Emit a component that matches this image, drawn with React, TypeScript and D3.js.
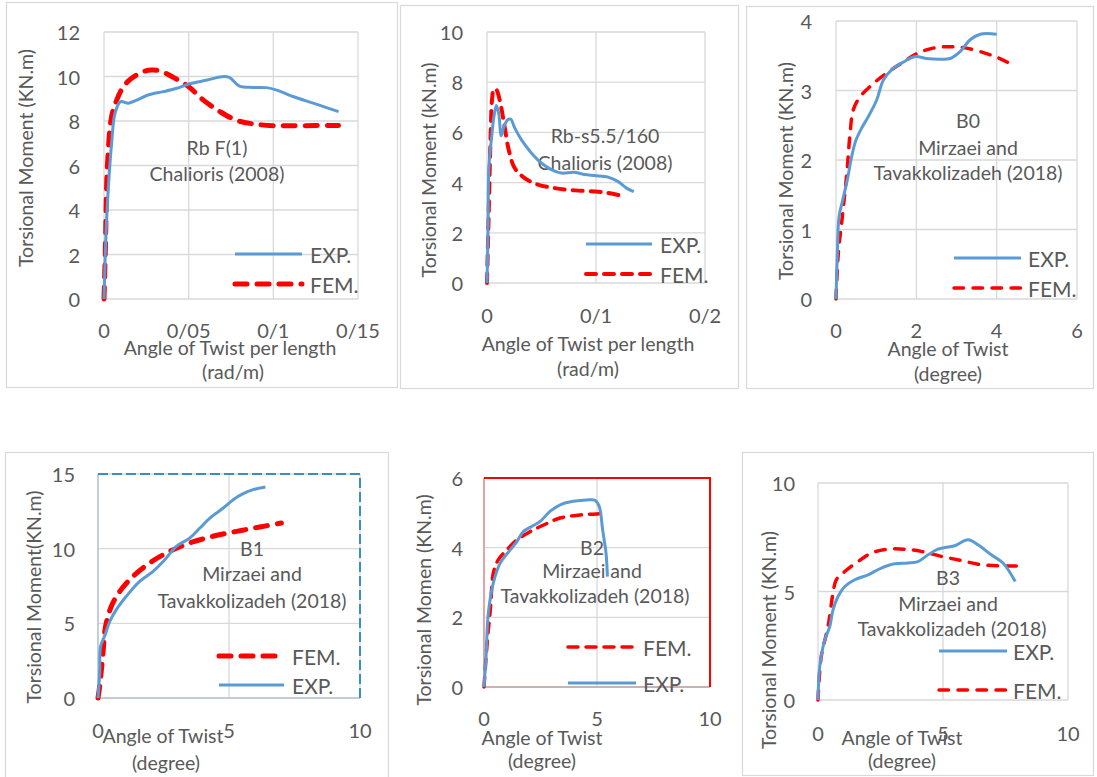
import React from "react";
import * as d3 from "d3";

type Pt = [number, number];

// ---- data (x = twist, y = torsional moment) ----
const rbF1Exp: Pt[] = [
  [0, 0], [0.0012, 2.95], [0.0026, 5.05], [0.0045, 7.0], [0.0065, 8.35], [0.0098, 8.87],
  [0.0144, 8.8], [0.0193, 8.94], [0.026, 9.17], [0.035, 9.32], [0.043, 9.47], [0.05, 9.66],
  [0.061, 9.84], [0.0695, 9.99], [0.074, 9.96], [0.08, 9.57], [0.088, 9.51], [0.096, 9.5],
  [0.102, 9.39], [0.112, 9.09], [0.124, 8.79], [0.1385, 8.42],
];
const rbF1Fem: Pt[] = [
  [0, 0], [0.0008, 2.2], [0.002, 5.95], [0.0045, 8.2], [0.0075, 8.94], [0.0114, 9.54],
  [0.0163, 9.92], [0.0232, 10.22], [0.028, 10.29], [0.033, 10.25], [0.041, 9.96], [0.05, 9.54],
  [0.0587, 8.94], [0.0685, 8.42], [0.078, 8.04], [0.088, 7.87], [0.1, 7.79], [0.116, 7.79],
  [0.1385, 7.8],
];
const rbS55Exp: Pt[] = [
  [0, 0], [0.0009, 1.99], [0.0018, 4.65], [0.004, 5.71], [0.0064, 6.64], [0.0086, 7.07],
  [0.0107, 6.77], [0.0131, 5.87], [0.0156, 6.24], [0.0193, 6.51], [0.0217, 6.53], [0.0254, 6.18],
  [0.0315, 5.71], [0.0407, 5.18], [0.0498, 4.78], [0.059, 4.52], [0.0682, 4.38], [0.0804, 4.41],
  [0.0896, 4.32], [0.0988, 4.28], [0.111, 4.22], [0.12, 4.05], [0.128, 3.78], [0.1346, 3.64],
];
const rbS55Fem: Pt[] = [
  [0, 0], [0.0015, 2.66], [0.0034, 5.98], [0.0046, 7.3], [0.0064, 7.73], [0.0086, 7.7],
  [0.0116, 7.3], [0.0156, 6.37], [0.0199, 5.31], [0.0254, 4.58], [0.0346, 4.18], [0.0468, 3.92],
  [0.0621, 3.78], [0.0804, 3.69], [0.0988, 3.65], [0.111, 3.59], [0.1263, 3.45],
];
const b0Exp: Pt[] = [
  [0, 0], [0.033, 0.66], [0.075, 1.18], [0.166, 1.42], [0.28, 1.71], [0.39, 2.05], [0.5, 2.29],
  [0.64, 2.46], [0.8, 2.62], [1.01, 2.86], [1.18, 3.15], [1.39, 3.3], [1.68, 3.41], [1.97, 3.49],
  [2.26, 3.46], [2.59, 3.45], [2.84, 3.46], [3.09, 3.56], [3.34, 3.73], [3.59, 3.81], [4.0, 3.81],
];
const b0Fem: Pt[] = [
  [0, 0], [0.058, 0.66], [0.166, 1.23], [0.27, 1.81], [0.35, 2.38], [0.43, 2.72], [0.6, 2.91],
  [0.89, 3.08], [1.26, 3.25], [1.68, 3.41], [2.01, 3.53], [2.42, 3.61], [2.84, 3.63],
  [3.25, 3.61], [3.75, 3.53], [4.08, 3.46], [4.32, 3.39],
];
const b1Exp: Pt[] = [
  [0, 0], [0.064, 1.67], [0.1, 3.46], [0.25, 4.13], [0.45, 5.13], [0.7, 5.92], [1.08, 6.81],
  [1.59, 7.81], [2.1, 8.48], [2.55, 9.26], [2.99, 10.16], [3.5, 10.71], [3.89, 11.38],
  [4.27, 12.05], [4.78, 12.72], [5.16, 13.28], [5.54, 13.68], [5.92, 13.95], [6.39, 14.13],
];
const b1Fem: Pt[] = [
  [0, 0], [0.064, 0.78], [0.19, 3.01], [0.29, 4.8], [0.51, 6.14], [0.83, 7.14], [1.34, 8.15],
  [1.97, 9.04], [2.74, 9.82], [3.5, 10.38], [4.39, 10.83], [5.29, 11.16], [6.18, 11.45], [7.0, 11.72],
];
const b2Exp: Pt[] = [
  [0, 0], [0.09, 0.86], [0.19, 2.11], [0.41, 2.98], [0.71, 3.55], [1.15, 3.93], [1.45, 4.17],
  [1.74, 4.46], [2.11, 4.61], [2.48, 4.75], [2.92, 5.04], [3.44, 5.25], [3.95, 5.33],
  [4.54, 5.37], [4.91, 5.36], [5.1, 5.18], [5.25, 4.51], [5.4, 3.84], [5.46, 3.17],
];
const b2Fem: Pt[] = [
  [0, 0], [0.15, 1.34], [0.29, 2.3], [0.41, 3.26], [0.63, 3.65], [1.0, 3.93], [1.45, 4.22],
  [2.04, 4.46], [2.63, 4.65], [3.36, 4.85], [4.25, 4.94], [4.98, 4.97], [5.43, 4.97],
];
const b3Exp: Pt[] = [
  [0, 0], [0.07, 1.54], [0.27, 2.77], [0.47, 3.38], [0.6, 4.15], [0.8, 4.77], [1.07, 5.23],
  [1.47, 5.54], [2.0, 5.77], [2.53, 6.08], [3.07, 6.28], [3.6, 6.31], [4.0, 6.38], [4.4, 6.69],
  [4.8, 6.95], [5.47, 7.11], [6.0, 7.38], [6.4, 7.15], [6.93, 6.69], [7.4, 6.31], [7.89, 5.46],
];
const b3Fem: Pt[] = [
  [0, 0], [0.13, 2.0], [0.4, 3.38], [0.6, 4.92], [0.73, 5.54], [1.07, 5.92], [1.6, 6.38],
  [2.13, 6.77], [2.8, 6.95], [3.47, 6.95], [4.13, 6.85], [4.93, 6.62], [5.73, 6.43],
  [6.4, 6.26], [7.2, 6.18], [7.93, 6.18],
];

// tick labels (the source uses "/" as decimal separator)
const perLengthTicks1 = ["0", "0/05", "0/1", "0/15"];
const perLengthTicks2 = ["0", "0/1", "0/2"];

const FONT = "Lato, 'Open Sans', sans-serif";
const INK = "#595959";
const GRID = "#d9d9d9";
const BLUE = "#5b9bd5";
const RED = "#ff0000";
const TICK_SIZE = 20;
const TITLE_SIZE = 19.5;
const LEGEND_SIZE = 21;

type Panel = {
  frame?: [number, number, number, number];
  box: { l: number; r: number; t: number; b: number };
  xDom: [number, number]; xTicks: number[]; xLabels?: string[];
  yDom: [number, number]; yStep: number;
  yLabRight: number; xLabY: number;
  yTitle: string; yTitleX: number; yTitleY: number;
  xTitle: string[]; xTitleX: number[]; xTitleY: number[];
  note: string[]; noteX: number[]; noteY: number[];
  legend: { key: "exp" | "fem"; y: number }[]; legX1: number; legX2: number; legText: number;
  exp: Pt[]; fem: Pt[];
  femW: number; femDash: string;
  border?: "blue" | "red";
};

const panels: Panel[] = [
  {
    frame: [6, 2, 391, 385],
    box: { l: 104, r: 358, t: 32, b: 299 },
    xDom: [0, 0.15], xTicks: [0, 0.05, 0.1, 0.15], xLabels: perLengthTicks1,
    yDom: [0, 12], yStep: 2, yLabRight: 80, xLabY: 330,
    yTitle: "Torsional Moment (KN.m)", yTitleX: 25, yTitleY: 158,
    xTitle: ["Angle of Twist per length", "(rad/m)"], xTitleX: [230, 233], xTitleY: [347, 371],
    note: ["Rb F(1)", "Chalioris (2008)"], noteX: [217, 217], noteY: [147, 173],
    legend: [{ key: "exp", y: 254 }, { key: "fem", y: 284 }], legX1: 235, legX2: 302, legText: 310,
    exp: rbF1Exp, fem: rbF1Fem, femW: 5, femDash: "12 10",
  },
  {
    frame: [400, 5, 338, 383],
    box: { l: 487, r: 705, t: 32, b: 283 },
    xDom: [0, 0.2], xTicks: [0, 0.1, 0.2], xLabels: perLengthTicks2,
    yDom: [0, 10], yStep: 2, yLabRight: 463, xLabY: 315,
    yTitle: "Torsional Moment (kN.m)", yTitleX: 428, yTitleY: 170,
    xTitle: ["Angle of Twist per length", "(rad/m)"], xTitleX: [588, 588], xTitleY: [343, 368],
    note: ["Rb-s5.5/160", "Chalioris (2008)"], noteX: [605, 605], noteY: [135, 162],
    legend: [{ key: "exp", y: 244 }, { key: "fem", y: 274 }], legX1: 586, legX2: 652, legText: 660,
    exp: rbS55Exp, fem: rbS55Fem, femW: 4, femDash: "10 8",
  },
  {
    frame: [746, 6, 347, 382],
    box: { l: 836, r: 1077, t: 21, b: 299 },
    xDom: [0, 6], xTicks: [0, 2, 4, 6],
    yDom: [0, 4], yStep: 1, yLabRight: 812, xLabY: 330,
    yTitle: "Torsional Moment (KN.m)", yTitleX: 785, yTitleY: 171,
    xTitle: ["Angle of Twist", "(degree)"], xTitleX: [948, 948], xTitleY: [348, 373],
    note: ["B0", "Mirzaei and", "Tavakkolizadeh (2018)"], noteX: [968, 968, 968], noteY: [120, 147, 172],
    legend: [{ key: "exp", y: 258 }, { key: "fem", y: 288 }], legX1: 954, legX2: 1021, legText: 1028,
    exp: b0Exp, fem: b0Fem, femW: 3.5, femDash: "9.5 9.5",
  },
  {
    frame: [5, 452, 383, 340],
    box: { l: 98, r: 360, t: 474, b: 698 },
    xDom: [0, 10], xTicks: [0, 5, 10],
    yDom: [0, 15], yStep: 5, yLabRight: 75, xLabY: 730,
    yTitle: "Torsional Moment(KN.m)", yTitleX: 33, yTitleY: 597,
    xTitle: ["Angle of Twist", "(degree)"], xTitleX: [163, 166], xTitleY: [735, 762],
    note: ["B1", "Mirzaei and", "Tavakkolizadeh (2018)"], noteX: [252, 252, 252], noteY: [548, 573, 600],
    legend: [{ key: "fem", y: 656 }, { key: "exp", y: 685 }], legX1: 219, legX2: 284, legText: 292,
    exp: b1Exp, fem: b1Fem, femW: 5, femDash: "12 10", border: "blue",
  },
  {
    box: { l: 484, r: 710, t: 478, b: 687 },
    xDom: [0, 10], xTicks: [0, 5, 10],
    yDom: [0, 6], yStep: 2, yLabRight: 463, xLabY: 718,
    yTitle: "Torsional Momen (KN.m)", yTitleX: 423, yTitleY: 600,
    xTitle: ["Angle of Twist", "(degree)"], xTitleX: [542, 542], xTitleY: [737, 760],
    note: ["B2", "Mirzaei and", "Tavakkolizadeh (2018)"], noteX: [592, 592, 595], noteY: [547, 570, 595],
    legend: [{ key: "fem", y: 647 }, { key: "exp", y: 683 }], legX1: 568, legX2: 636, legText: 643,
    exp: b2Exp, fem: b2Fem, femW: 3.5, femDash: "10 8", border: "red",
  },
  {
    frame: [742, 452, 351, 323],
    box: { l: 818, r: 1068, t: 483, b: 700 },
    xDom: [0, 10], xTicks: [0, 5, 10],
    yDom: [0, 10], yStep: 5, yLabRight: 795, xLabY: 733,
    yTitle: "Torsional Moment (KN.m)", yTitleX: 768, yTitleY: 640,
    xTitle: ["Angle of Twist", "(degree)"], xTitleX: [902, 902], xTitleY: [737, 760],
    note: ["B3", "Mirzaei and", "Tavakkolizadeh (2018)"], noteX: [948, 948, 952], noteY: [577, 603, 628],
    legend: [{ key: "exp", y: 651 }, { key: "fem", y: 690 }], legX1: 939, legX2: 1007, legText: 1013,
    exp: b3Exp, fem: b3Fem, femW: 3.5, femDash: "9.5 9.5",
  },
];

function ChartPanel({ p }: { p: Panel }) {
  const { box } = p;
  const x = d3.scaleLinear().domain(p.xDom).range([box.l, box.r]);
  const y = d3.scaleLinear().domain(p.yDom).range([box.b, box.t]);
  const yTicks = d3.range(p.yDom[0], p.yDom[1] + p.yStep / 2, p.yStep);
  const line = d3
    .line<Pt>()
    .x((d) => x(d[0]))
    .y((d) => y(d[1]))
    .curve(d3.curveCatmullRom.alpha(0.5));
  const femStyle = {
    stroke: RED, strokeWidth: p.femW, strokeDasharray: p.femDash,
    strokeLinecap: "round" as const, fill: "none",
  };
  const expStyle = { stroke: BLUE, strokeWidth: 3, fill: "none", strokeLinejoin: "round" as const };

  return (
    <g fontFamily={FONT} fill={INK}>
      {p.frame && (
        <rect x={p.frame[0] + 0.5} y={p.frame[1] + 0.5} width={p.frame[2]} height={p.frame[3]}
          fill="white" stroke={GRID} strokeWidth={1.2} />
      )}
      {/* grid */}
      {p.xTicks.map((t) => (
        <line key={"gx" + t} x1={x(t)} x2={x(t)} y1={box.t} y2={box.b} stroke={GRID} strokeWidth={1.3} />
      ))}
      {yTicks.map((t) => (
        <line key={"gy" + t} x1={box.l} x2={box.r} y1={y(t)} y2={y(t)} stroke={GRID} strokeWidth={1.3} />
      ))}
      {p.border === "blue" && (
        <g fill="none">
          <line x1={box.l} x2={box.l} y1={box.t} y2={box.b} stroke="#b9c6d3" strokeWidth={1.5} />
          <line x1={box.l} x2={box.r} y1={box.b} y2={box.b} stroke="#b9c6d3" strokeWidth={1.5} />
          <path d={`M${box.l},${box.t}H${box.r}V${box.b}`} stroke="#0070c0" strokeWidth={1.5} strokeDasharray="10 4" />
        </g>
      )}
      {p.border === "red" && (
        <g fill="none">
          <line x1={box.l} x2={box.l} y1={box.t} y2={box.b} stroke="#e6a3a3" strokeWidth={2} />
          <line x1={box.l} x2={box.r} y1={box.b} y2={box.b} stroke="#c9b2b2" strokeWidth={2} />
          <path d={`M${box.l},${box.t}H${box.r}V${box.b}`} stroke={RED} strokeWidth={2} />
        </g>
      )}
      {/* tick labels */}
      {yTicks.map((t) => (
        <text key={"ty" + t} x={p.yLabRight} y={y(t)} textAnchor="end" dominantBaseline="central" fontSize={TICK_SIZE}>
          {t}
        </text>
      ))}
      {p.xTicks.map((t, i) => (
        <text key={"tx" + t} x={x(t)} y={p.xLabY} textAnchor="middle" dominantBaseline="central" fontSize={TICK_SIZE}>
          {p.xLabels ? p.xLabels[i] : t}
        </text>
      ))}
      {/* titles */}
      <text transform={`translate(${p.yTitleX},${p.yTitleY}) rotate(-90)`} textAnchor="middle"
        dominantBaseline="central" fontSize={TITLE_SIZE}>
        {p.yTitle}
      </text>
      {p.xTitle.map((s, i) => (
        <text key={"xt" + i} x={p.xTitleX[i]} y={p.xTitleY[i]} textAnchor="middle" dominantBaseline="central" fontSize={TITLE_SIZE}>
          {s}
        </text>
      ))}
      {p.note.map((s, i) => (
        <text key={"n" + i} x={p.noteX[i]} y={p.noteY[i]} textAnchor="middle" dominantBaseline="central" fontSize={TITLE_SIZE}>
          {s}
        </text>
      ))}
      {/* series */}
      <path d={line(p.fem) ?? ""} style={femStyle} />
      <path d={line(p.exp) ?? ""} style={expStyle} />
      {/* legend */}
      {p.legend.map((e) => (
        <g key={e.key}>
          <line x1={p.legX1} x2={p.legX2} y1={e.y} y2={e.y} style={e.key === "fem" ? femStyle : expStyle} />
          <text x={p.legText} y={e.y} dominantBaseline="central" fontSize={LEGEND_SIZE}>
            {e.key === "fem" ? "FEM." : "EXP."}
          </text>
        </g>
      ))}
    </g>
  );
}

export default function App() {
  return (
    <svg width={1097} height={777} style={{ position: "absolute", left: 0, top: 0, background: "white" }}>
      <rect width={1097} height={777} fill="white" />
      {panels.map((p, i) => (
        <ChartPanel key={i} p={p} />
      ))}
    </svg>
  );
}
